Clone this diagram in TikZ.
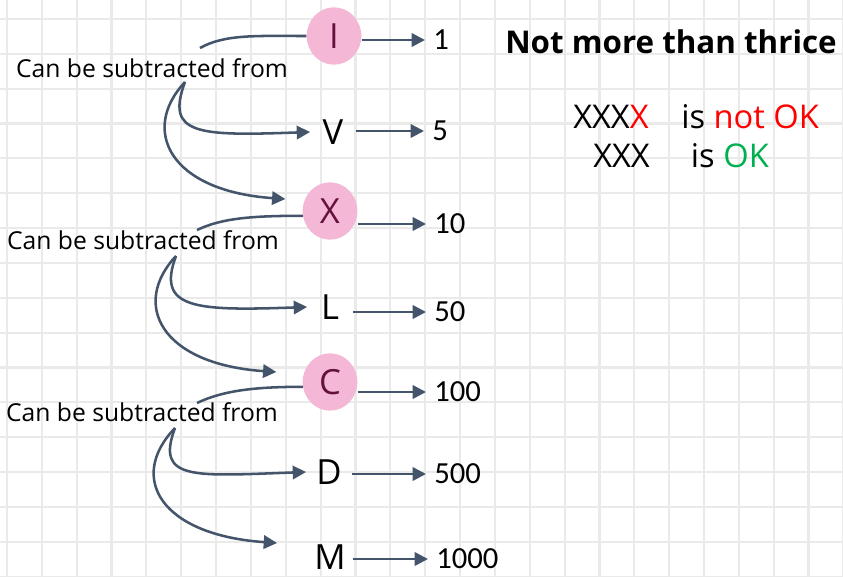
\documentclass[tikz,border=0pt]{standalone}
\usepackage{fontspec}
\setmainfont{Open Sans}
\newfontfamily\numfont{Carlito}
\usetikzlibrary{shapes.geometric, arrows.meta}
\definecolor{slate}{RGB}{68,84,106}
\definecolor{pinkfill}{RGB}{245,183,214}
\definecolor{maroon}{RGB}{100,18,60}
\definecolor{okgreen}{RGB}{0,176,80}
\definecolor{notred}{RGB}{255,0,0}
\definecolor{gridline}{RGB}{234,234,234}
\tikzstyle{numeral} = [
    ellipse,
    inner sep=0pt,
    minimum width=34pt,
    minimum height=43pt,
    font=\fontsize{26}{26}\selectfont
]
\tikzstyle{marked} = [
    numeral,
    fill=pinkfill,
    minimum width=41pt,
    text=maroon
]
\tikzstyle{value} = [
    anchor=west,
    inner sep=6pt,
    font=\numfont\fontsize{23}{23}\selectfont
]
\tikzstyle{note} = [inner sep=0pt, font=\fontsize{18.5}{18.5}\selectfont]
\tikzstyle{remark} = [anchor=west, inner sep=0pt, font=\fontsize{24.5}{24.5}\selectfont]
\tikzstyle{link} = [line width=1.9pt, draw=slate]
\tikzstyle{arrow} = [link, ->, >={Triangle[length=10pt,width=10pt]}]

\begin{document}
\begin{tikzpicture}[x=0.75pt, y=-0.75pt]

% squared paper
\useasboundingbox (0,0) rectangle (843,576);
\fill[white] (0,0) rectangle (843,576);
\foreach \i in {0,...,24}
    \draw[gridline, line width=1.6pt] (7+34.85*\i,0) -- (7+34.85*\i,576);
\foreach \j in {0,...,16}
    \draw[gridline, line width=1.6pt] (0,19+34.85*\j) -- (843,19+34.85*\j);

% numerals
\node (one) [marked] at (334,36) {I};
\node (five) [numeral] at (333,132) {V};
\node (ten) [marked] at (330,211) {X};
\node (fifty) [numeral] at (330,307) {L};
\node (hundred) [marked] at (330,382) {C};
\node (fivehundred) [numeral] at (329,472) {D};
\node (thousand) [numeral] at (330,557) {M};

% values
\node (v1) [value] at (425,40) {1};
\node (v5) [value] at (424,131) {5};
\node (v10) [value] at (426,224) {10};
\node (v50) [value] at (426,312) {50};
\node (v100) [value] at (426,392) {100};
\node (v500) [value] at (426,474) {500};
\node (v1000) [value] at (428,559) {1000};

\draw [arrow] (one.east |- v1.west) -- (v1.west);
\draw [arrow] (five.east |- v5.west) -- (v5.west);
\draw [arrow] (ten.east |- v10.west) -- (v10.west);
\draw [arrow] (fifty.east |- v50.west) -- (v50.west);
\draw [arrow] (hundred.east |- v100.west) -- (v100.west);
\draw [arrow] (fivehundred.east |- v500.west) -- (v500.west);
\draw [arrow] (thousand.east |- v1000.west) -- (v1000.west);

% subtraction notes
\node (sub1) [note] at (152,68) {Can be subtracted from};
\node (sub2) [note] at (143,240) {Can be subtracted from};
\node (sub3) [note] at (142,412) {Can be subtracted from};

\coordinate (top1) at (200,48);
\coordinate (fork1) at (185,82);
\coordinate (top2) at (197,230);
\coordinate (fork2) at (176,256);
\coordinate (top3) at (197,403);
\coordinate (fork3) at (175,428);

\draw [link] (top1) .. controls +(25,-14) and +(-50,0) .. (one.west);
\draw [arrow] (fork1) .. controls +(-20,53) and +(-112,4) .. (five.west);
\draw [arrow] (fork1) .. controls +(-45,48) and +(-116,-8) .. ([shift={(-17,-12)}]ten.west);

\draw [link] (top2) .. controls +(25,-12) and +(-50,0) .. (ten.190);
\draw [arrow] (fork2) .. controls +(-20,53) and +(-112,4) .. (fifty.west);
\draw [arrow] (fork2) .. controls +(-45,48) and +(-116,-8) .. ([shift={(-26,-10)}]hundred.west);

\draw [link] (top3) .. controls +(25,-12) and +(-50,0) .. (hundred.190);
\draw [arrow] (fork3) .. controls +(-20,53) and +(-112,4) .. (fivehundred.west);
\draw [arrow] (fork3) .. controls +(-48,50) and +(-116,-8) .. ([shift={(-30,-14)}]thousand.west);

% rule on the right
\node (rule) at (671,42) {\bfseries\fontsize{23.5}{23.5}\selectfont Not more than thrice};
\node (bad) [remark] at (573,117) {XXX\textcolor{notred}{X}\quad is \textcolor{notred}{not OK}};
\node (good) [remark] at (593,156) {XXX\quad\ is \textcolor{okgreen}{OK}};

\end{tikzpicture}
\end{document}
